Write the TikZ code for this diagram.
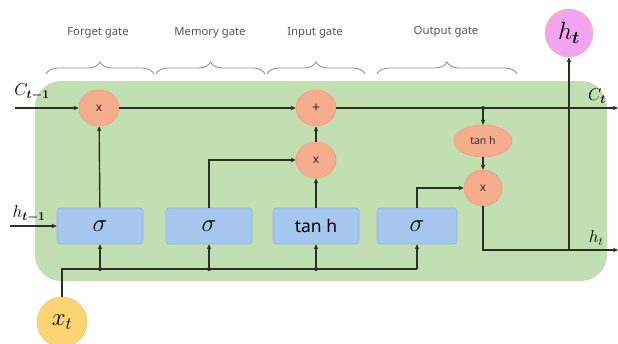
\documentclass[tikz,border=0pt]{standalone}
\usepackage{amsmath}
\usepackage{fontspec}
\setsansfont{Noto Sans}
\usetikzlibrary{arrows.meta,decorations.pathreplacing,calc,shapes.geometric}
\definecolor{bgreen}{HTML}{C2DFB1}
\definecolor{salmon}{HTML}{F6AD8F}
\definecolor{salmonb}{HTML}{F49A7A}
\definecolor{bluebox}{HTML}{A6C8EE}
\definecolor{blueb}{HTML}{8FB5E3}
\definecolor{pinkc}{HTML}{F2A4F0}
\definecolor{yellowc}{HTML}{FBD571}
\definecolor{orangeb}{HTML}{F5C08A}
\definecolor{linec}{HTML}{2A2F28}
\definecolor{textg}{HTML}{555555}
\begin{document}
\begin{tikzpicture}[x=1pt,y=-1pt,
  conn/.style={draw=linec,line width=1.4pt},
  arr/.style={conn,-{Stealth[length=5pt,width=4.5pt]}},
  opc/.style={ellipse,fill=salmon,draw=salmonb,line width=0.6pt,minimum width=40pt,minimum height=36pt,inner sep=0pt,font=\sffamily\fontsize{12}{14}\selectfont,text=linec},
  gatebox/.style={rounded corners=3pt,fill=bluebox,draw=blueb,line width=0.6pt,minimum width=86pt,minimum height=36pt,inner sep=0pt,font=\fontsize{24}{28}\selectfont},
  brace/.style={draw=gray!85,line width=0.9pt,decorate,decoration={brace,amplitude=12pt}},
  glabel/.style={font=\sffamily\fontsize{11.3}{13}\selectfont,text=textg},
  mlabel/.style={font=\fontsize{17}{20}\selectfont},
  dot/.style={circle,fill=linec,inner sep=0pt,minimum size=4pt}]
\useasboundingbox (0,0) rectangle (618,343);
% background cell
\fill[bgreen,rounded corners=26pt] (35,81) rectangle (607,281);
% braces and labels
\draw[brace] (46,74) -- (154,74);
\draw[brace] (156,74) -- (265,74);
\draw[brace] (267,74) -- (365,74);
\draw[brace] (377,74) -- (517,74);
\node[glabel] (lf) at (98,33) {Forget gate};
\node[glabel] (lm) at (210,33) {Memory gate};
\node[glabel] (li) at (315,33) {Input gate};
\node[glabel] (lo) at (446,32) {Output gate};
% nodes
\node[opc] (m1) at (99,108) {x};
\node[opc,font=\sffamily\bfseries\fontsize{14}{16}\selectfont] (plus) at (316,108) {+};
\node[opc] (m2) at (316,160) {x};
\node[opc,minimum width=58pt,minimum height=32pt,font=\sffamily\fontsize{10.5}{12}\selectfont] (th) at (483,141) {tan h};
\node[opc,minimum width=38pt,minimum height=36pt] (m3) at (483,188) {x};
\node[gatebox] (g1) at (100,226) {$\sigma$};
\node[gatebox] (g2) at (209,226) {$\sigma$};
\node[gatebox,font=\sffamily\fontsize{17.5}{20}\selectfont] (g3) at (316,226) {tan h};
\node[gatebox,minimum width=80pt] (g4) at (417,226) {$\sigma$};
\node[circle,fill=pinkc,draw=orangeb,line width=0.6pt,minimum size=48pt,inner sep=0pt,font=\fontsize{26}{30}\selectfont] (ht) at (569,33) {$h_{\boldsymbol{t}}$};
\node[circle,fill=yellowc,draw=orangeb,line width=0.6pt,minimum size=50pt,inner sep=0pt,font=\fontsize{24}{28}\selectfont] (xt) at (62,322) {$x_t$};
% coordinates
\coordinate (cin) at (15,108);
\coordinate (cout) at (618,108);
\coordinate (hin) at (10,226);
\coordinate (hout) at (618,250);
\coordinate (jc) at (483,108);
\coordinate (hc) at (569,250);
\coordinate (bL) at (62,269);
\coordinate (b1) at (100,269);
\coordinate (b2) at (209,269);
\coordinate (b3) at (316,269);
\coordinate (b4) at (417,269);
% labels
\node[mlabel] (lc0) at (32,92) {$C_{\boldsymbol{t-1}}$};
\node[mlabel] (lc1) at (597,96) {$C_{\boldsymbol{t}}$};
\node[mlabel] (lh0) at (29,214) {$h_{\boldsymbol{t-1}}$};
\node[mlabel] (lh1) at (596,238) {$h_t$};
% connectors: cell state
\draw[arr] (cin) -- (m1);
\draw[arr] (m1) -- (plus);
\draw[arr] (plus) -- (cout);
\node[dot] (dj) at (jc) {};
\draw[arr] (jc) -- (th);
\draw[arr] (th) -- (m3);
% hidden
\draw[arr] (hin) -- (g1);
\draw[arr] (g1) -- (m1);
\draw[arr] (g2.north) |- (m2);
\draw[arr] (g3) -- (m2);
\draw[arr] (m2) -- (plus);
\draw[arr] (g4.north) |- (m3);
\draw[conn] (m3) |- (hc);
\draw[arr] (hc) -- (hout);
\draw[arr] (hc) -- (ht);
% input bus
\draw[conn] (xt) -- (bL) -- (b4);
\draw[arr] (b4) -- (g4);
\draw[arr] (b1) -- (g1);
\draw[arr] (b2) -- (g2);
\draw[arr] (b3) -- (g3);
\node[dot] (d1) at (b1) {};
\node[dot] (d2) at (b2) {};
\node[dot] (d3) at (b3) {};
\end{tikzpicture}
\end{document}
